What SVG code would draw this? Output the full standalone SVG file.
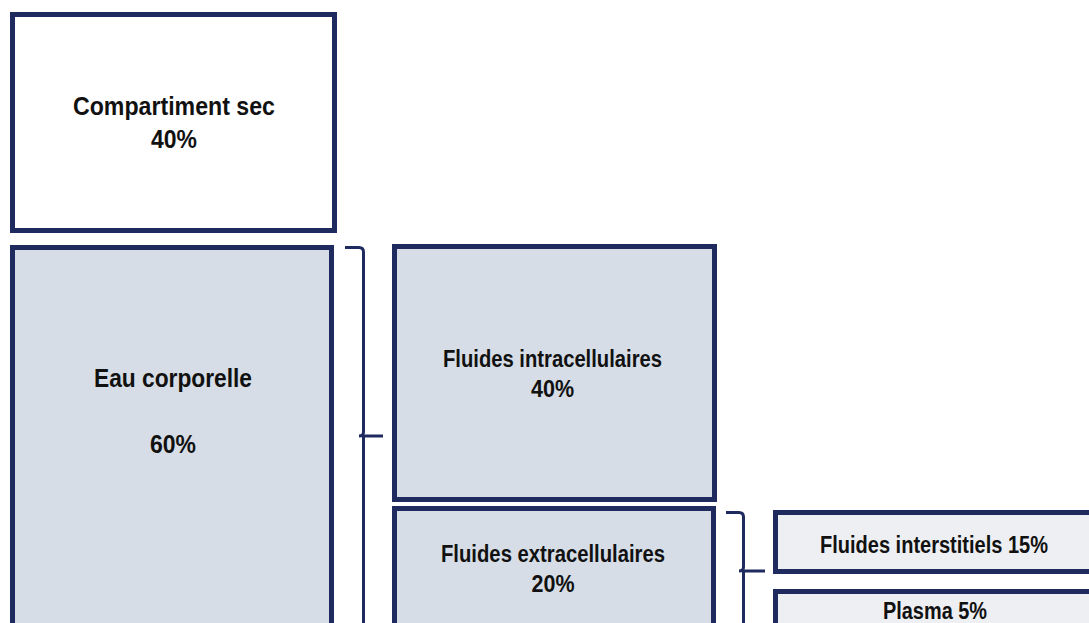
<svg xmlns="http://www.w3.org/2000/svg" width="1089" height="623" viewBox="0 0 1089 623">
<style>
.box{stroke:#1F2A5E;stroke-width:5}
.w{fill:#FFFFFF}
.b{fill:#D6DDE6}
.l{fill:#EEEFF3}
.t{font-family:"Liberation Sans",Arial,sans-serif;font-weight:bold;fill:#111111;text-anchor:middle}
.big{font-size:25px}
.med{font-size:23.5px}
.br{fill:none;stroke:#1F2A5E;stroke-width:3;stroke-linecap:butt;stroke-linejoin:round}
</style>
<rect width="1089" height="623" fill="#FFFFFF"/>
<g id="compartiment-sec">
<rect class="box w" x="12.5" y="14.5" width="322" height="216"/>
<text class="t big" x="174" y="115" textLength="202" lengthAdjust="spacingAndGlyphs">Compartiment sec</text>
<text class="t big" x="174" y="148" textLength="46" lengthAdjust="spacingAndGlyphs">40%</text>
</g>
<g id="eau-corporelle">
<rect class="box b" x="12.5" y="247.5" width="319" height="400"/>
<text class="t big" x="173" y="387" textLength="158" lengthAdjust="spacingAndGlyphs">Eau corporelle</text>
<text class="t big" x="173" y="453" textLength="46" lengthAdjust="spacingAndGlyphs">60%</text>
</g>
<g id="fluides-intracellulaires">
<rect class="box b" x="394.5" y="246.5" width="320" height="253"/>
<text class="t med" x="552.5" y="367" textLength="219" lengthAdjust="spacingAndGlyphs">Fluides intracellulaires</text>
<text class="t med" x="552.5" y="397" textLength="43" lengthAdjust="spacingAndGlyphs">40%</text>
</g>
<g id="fluides-extracellulaires">
<rect class="box b" x="394.5" y="508.5" width="319" height="200"/>
<text class="t med" x="553" y="562" textLength="224" lengthAdjust="spacingAndGlyphs">Fluides extracellulaires</text>
<text class="t med" x="553" y="592" textLength="43" lengthAdjust="spacingAndGlyphs">20%</text>
</g>
<g id="fluides-interstitiels">
<rect class="box l" x="775.5" y="512.5" width="325" height="59"/>
<text class="t med" x="934" y="553" textLength="228" lengthAdjust="spacingAndGlyphs">Fluides interstitiels 15%</text>
</g>
<g id="plasma">
<rect class="box l" x="775.5" y="591.5" width="325" height="100"/>
<text class="t med" x="935" y="619" textLength="104" lengthAdjust="spacingAndGlyphs">Plasma 5%</text>
</g>
<g id="connectors">
<path class="br" d="M345,247.5 H359 Q363.5,247.5 363.5,252 V432 Q363.5,436 359,436 M363.5,436 H383 M363.5,436 V640"/>
<path class="br" d="M726,512.5 H739 Q743.5,512.5 743.5,517 V567 Q743.5,571 739,571 M743.5,571 H765 M743.5,571 V640"/>
</g>
</svg>
